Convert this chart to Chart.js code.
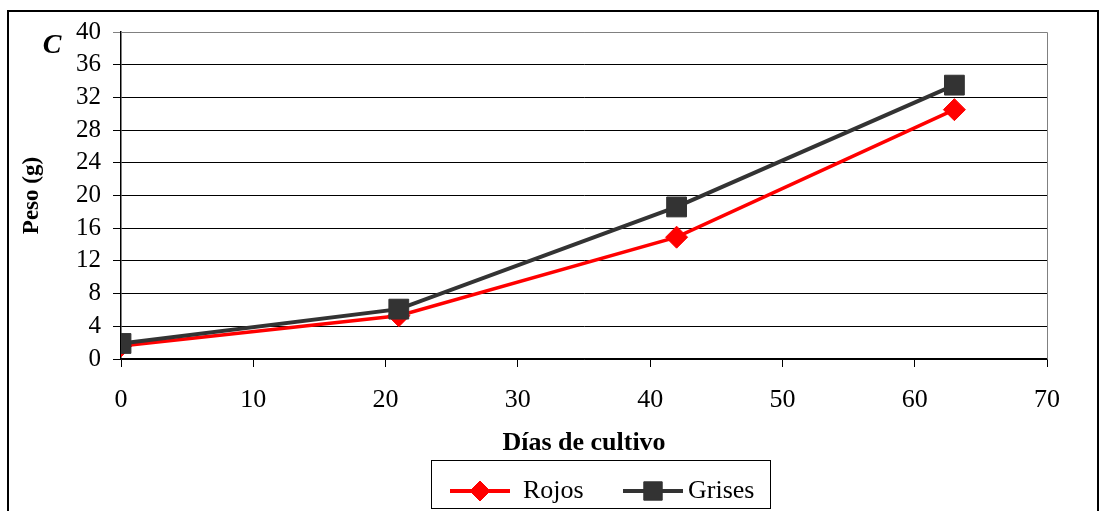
<!DOCTYPE html>
<html>
<head>
<meta charset="utf-8">
<script src="https://cdn.jsdelivr.net/npm/chart.js@4/dist/chart.umd.min.js"></script>
<style>
html,body{margin:0;padding:0;background:#fff;}
#wrap{position:relative;width:1102px;height:511px;}
</style>
</head>
<body>
<div id="wrap"><canvas id="c" width="1102" height="511"></canvas></div>
<script>
const days = [0, 21, 42, 63];
const rojos = [1.6, 5.3, 14.9, 30.5];
const grises = [1.9, 6.1, 18.6, 33.5];
const xTicks = [0, 10, 20, 30, 40, 50, 60, 70];
const yTicks = [0, 4, 8, 12, 16, 20, 24, 28, 32, 36, 40];
const seriesNames = ['Rojos', 'Grises'];
const panelLabel = 'C';
const xTitle = 'Días de cultivo';
const yTitle = 'Peso (g)';

const FONT = '"Liberation Serif", "Times New Roman", serif';

const framePlugin = {
  id: 'frame',
  beforeDraw(chart) {
    const ctx = chart.ctx;
    ctx.save();
    ctx.fillStyle = '#fff';
    ctx.fillRect(0, 0, chart.width, chart.height);
    ctx.strokeStyle = '#000';
    ctx.lineWidth = 2;
    ctx.strokeRect(8, 11, 1090, 520);
    ctx.restore();
  },
  afterDraw(chart) {
    const ctx = chart.ctx;
    const a = chart.chartArea;
    ctx.save();
    // plot frame top and right
    ctx.strokeStyle = '#808080';
    ctx.lineWidth = 1;
    ctx.beginPath();
    ctx.moveTo(a.left, a.top + 0.5);
    ctx.lineTo(a.right + 0.5, a.top + 0.5);
    ctx.lineTo(a.right + 0.5, a.bottom);
    ctx.stroke();
    // panel label
    ctx.fillStyle = '#000';
    ctx.font = 'italic bold 28px ' + FONT;
    ctx.textAlign = 'center';
    ctx.textBaseline = 'middle';
    ctx.fillText(panelLabel, 52, 46);
    // legend
    const bx = 431, by = 460, bw = 339, bh = 48;
    ctx.strokeStyle = '#000';
    ctx.lineWidth = 1;
    ctx.strokeRect(bx + 0.5, by + 0.5, bw, bh);
    const items = [
      {x: 450, tx: 523, r: 10},
      {x: 623, tx: 688, r: 13}
    ];
    const ly = 491;
    chart.data.datasets.forEach((ds, i) => {
      const it = items[i];
      ctx.strokeStyle = ds.borderColor;
      ctx.lineWidth = 4;
      ctx.beginPath();
      ctx.moveTo(it.x, ly);
      ctx.lineTo(it.x + 60, ly);
      ctx.stroke();
      ctx.fillStyle = ds.borderColor;
      ctx.strokeStyle = ds.borderColor;
      ctx.lineWidth = 1;
      Chart.helpers.drawPoint(ctx, {
        pointStyle: ds.pointStyle,
        radius: it.r,
        borderWidth: 1,
        rotation: 0
      }, it.x + 30, ly);
      ctx.fillStyle = '#000';
      ctx.font = '26px ' + FONT;
      ctx.textAlign = 'left';
      ctx.textBaseline = 'middle';
      ctx.fillText(ds.label, it.tx, ly);
    });
    ctx.restore();
  }
};

new Chart(document.getElementById('c'), {
  type: 'line',
  data: {
    datasets: [
      {
        label: seriesNames[0],
        data: days.map((d, i) => ({x: d, y: rojos[i]})),
        borderColor: '#ff0000',
        backgroundColor: '#ff0000',
        borderWidth: 3.5,
        pointStyle: 'rectRot',
        pointRadius: 11,
        pointHoverRadius: 11,
        pointBorderWidth: 1,
        tension: 0,
        order: 1
      },
      {
        label: seriesNames[1],
        data: days.map((d, i) => ({x: d, y: grises[i]})),
        borderColor: '#333333',
        backgroundColor: '#333333',
        borderWidth: 4,
        pointStyle: 'rect',
        pointRadius: 14,
        pointHoverRadius: 14,
        pointBorderWidth: 1,
        tension: 0,
        order: 0
      }
    ]
  },
  options: {
    responsive: false,
    animation: false,
    layout: {padding: {left: 10, right: 55, top: 32, bottom: 52}},
    plugins: {
      legend: {display: false},
      tooltip: {enabled: false}
    },
    scales: {
      x: {
        type: 'linear',
        min: 0, max: 70,
        afterBuildTicks(s) { s.ticks = xTicks.map(v => ({value: v})); },
        afterFit(s) { s.height = 100; },
        ticks: {
          color: '#000',
          font: {family: FONT, size: 26},
          padding: 18,
          maxRotation: 0,
          autoSkip: false
        },
        grid: {drawOnChartArea: false, drawTicks: true, tickLength: 8, color: '#000', lineWidth: 1},
        border: {color: '#000', width: 1.5},
        title: {
          display: true,
          text: xTitle,
          color: '#000',
          font: {family: FONT, size: 26, weight: 'bold'},
          padding: {top: 9, bottom: 0}
        }
      },
      y: {
        min: 0, max: 40,
        afterBuildTicks(s) { s.ticks = yTicks.map(v => ({value: v})); },
        afterFit(s) { s.width = 111; },
        ticks: {
          color: '#000',
          font: {family: FONT, size: 25},
          padding: 12,
          autoSkip: false
        },
        grid: {
          drawTicks: true, tickLength: 8, lineWidth: 1,
          color: (c) => c.tick && c.tick.value === 40 ? '#808080' : '#000'
        },
        border: {color: '#000', width: 1.5},
        title: {
          display: true,
          text: yTitle,
          color: '#000',
          font: {family: FONT, size: 23, weight: 'bold'},
          padding: {top: 8, bottom: 0}
        }
      }
    }
  },
  plugins: [framePlugin]
});
</script>
</body>
</html>
